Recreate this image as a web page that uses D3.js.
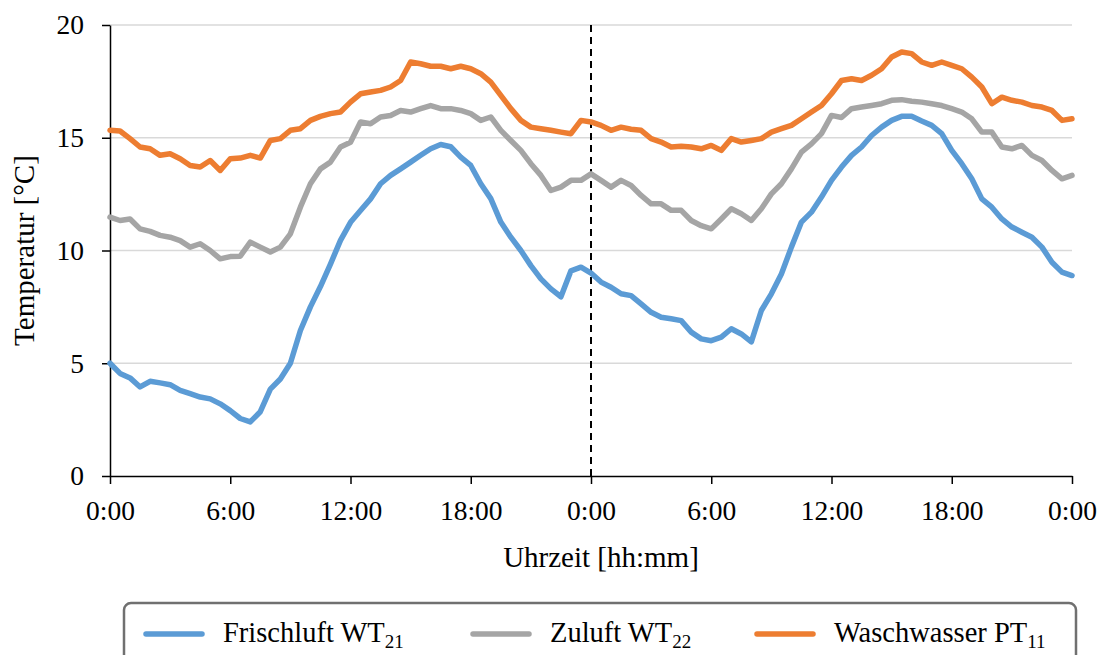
<!DOCTYPE html>
<html><head><meta charset="utf-8">
<script src="https://cdn.jsdelivr.net/npm/d3@7"></script>
<style>
html,body{margin:0;padding:0;background:#fff;}
svg{display:block;}
</style></head>
<body><svg id="chart" width="1100" height="655"></svg>
<script>
// Time in hours (two days, half-hour steps)
const hours = d3.range(0, 48.001, 0.5);
const xTickValues = [0, 6, 12, 18, 24, 30, 36, 42, 48];
const xTickLabels = ["0:00","6:00","12:00","18:00","0:00","6:00","12:00","18:00","0:00"];
const yTickValues = [0, 5, 10, 15, 20];

const frischluft = [5.0,4.55,4.35,3.95,4.2,4.13,4.05,3.8,3.65,3.5,3.42,3.2,2.9,2.55,2.4,2.85,3.85,4.3,5.0,6.45,
 7.5,8.4,9.4,10.45,11.25,11.77,12.29,12.96,13.33,13.62,13.92,14.22,14.51,14.7,14.6,14.14,13.77,12.96,12.3,11.26,
 10.59,10.0,9.33,8.74,8.3,7.95,9.1,9.26,9.0,8.6,8.37,8.08,8.0,7.63,7.26,7.04,6.97,6.89,6.38,6.08,
 6.0,6.16,6.53,6.3,5.95,7.34,8.08,8.96,10.15,11.26,11.7,12.37,13.11,13.7,14.22,14.59,15.1,15.47,15.77,15.95,
 15.95,15.74,15.55,15.18,14.44,13.85,13.18,12.29,11.92,11.4,11.04,10.81,10.59,10.15,9.48,9.04,8.89];
const zuluft = [11.48,11.33,11.4,10.96,10.85,10.67,10.59,10.44,10.15,10.3,10.0,9.63,9.73,9.75,10.37,10.15,9.93,10.15,10.74,11.92,
 12.96,13.62,13.92,14.59,14.8,15.7,15.62,15.92,15.99,16.21,16.14,16.29,16.43,16.29,16.29,16.21,16.07,15.77,15.92,15.33,
 14.88,14.44,13.85,13.33,12.66,12.81,13.11,13.11,13.4,13.11,12.81,13.11,12.88,12.44,12.07,12.07,11.78,11.78,11.33,11.1,
 10.96,11.4,11.85,11.63,11.33,11.85,12.51,12.96,13.62,14.36,14.73,15.18,15.99,15.9,16.29,16.36,16.43,16.51,16.66,16.69,
 16.62,16.58,16.51,16.43,16.29,16.14,15.84,15.25,15.25,14.59,14.51,14.66,14.22,13.99,13.55,13.18,13.33];
const waschwasser = [15.33,15.3,14.96,14.59,14.51,14.22,14.29,14.07,13.77,13.7,13.99,13.55,14.07,14.1,14.22,14.1,14.88,14.96,15.33,15.4,
 15.77,15.95,16.07,16.14,16.58,16.95,17.03,17.1,17.25,17.54,18.36,18.28,18.17,18.17,18.06,18.17,18.06,17.84,17.47,16.88,
 16.29,15.77,15.47,15.4,15.33,15.25,15.18,15.77,15.7,15.55,15.33,15.47,15.38,15.33,14.96,14.81,14.59,14.62,14.59,14.51,
 14.66,14.44,14.96,14.81,14.88,14.96,15.25,15.4,15.55,15.84,16.14,16.43,16.95,17.54,17.62,17.54,17.77,18.06,18.58,18.8,
 18.73,18.36,18.21,18.36,18.21,18.06,17.69,17.25,16.51,16.8,16.66,16.58,16.43,16.36,16.21,15.77,15.84];

const seriesNames = ["Frischluft WT", "Zuluft WT", "Waschwasser PT"];
const seriesSubs = ["21", "22", "11"];
const seriesColors = ["#5B9BD5", "#A5A5A5", "#ED7D31"];
const seriesData = [frischluft, zuluft, waschwasser];

const FONT = "Liberation Serif";
const FS = 27.5;   // tick labels
const FT = 29;     // axis titles
const svg = d3.select("#chart").attr("font-family", FONT);
const x = d3.scaleLinear().domain([0, 48]).range([110, 1072]);
const y = d3.scaleLinear().domain([0, 20]).range([476, 25]);

// gridlines
svg.append("g").selectAll("line").data(yTickValues.filter(v => v > 0)).join("line")
  .attr("x1", x(0)).attr("x2", x(48)).attr("y1", d => y(d)).attr("y2", d => y(d))
  .attr("stroke", "#d9d9d9").attr("stroke-width", 1.5);

// y axis
const yAxis = svg.append("g").attr("transform", `translate(${x(0)},0)`)
  .call(d3.axisLeft(y).tickValues(yTickValues).tickSize(8).tickSizeOuter(0).tickPadding(18));
yAxis.attr("font-family", FONT).attr("font-size", FS);
yAxis.select(".domain").attr("stroke", "#000").attr("stroke-width", 1.5);
yAxis.selectAll(".tick line").attr("stroke", "#000").attr("stroke-width", 1.5);
yAxis.selectAll("text").attr("fill", "#000");

// x axis
const xAxis = svg.append("g").attr("transform", `translate(0,${y(0)})`)
  .call(d3.axisBottom(x).tickValues(xTickValues).tickFormat((d, i) => xTickLabels[i]).tickSize(8).tickSizeOuter(0).tickPadding(16));
xAxis.attr("font-family", FONT).attr("font-size", FS);
xAxis.select(".domain").attr("stroke", "#000").attr("stroke-width", 1.5);
xAxis.selectAll(".tick line").attr("stroke", "#000").attr("stroke-width", 1.5);
xAxis.selectAll("text").attr("fill", "#000");

// dashed midnight line
svg.append("line").attr("x1", x(24)).attr("x2", x(24)).attr("y1", y(20)).attr("y2", y(0))
  .attr("stroke", "#000").attr("stroke-width", 2).attr("stroke-dasharray", "7,5");

// lines
const line = d3.line().x((d, i) => x(hours[i])).y(d => y(d)).curve(d3.curveLinear);
seriesData.forEach((s, k) => {
  svg.append("path").datum(s).attr("d", line).attr("fill", "none")
    .attr("stroke", seriesColors[k]).attr("stroke-width", 5.5)
    .attr("stroke-linejoin", "round").attr("stroke-linecap", "round");
});

// axis titles
svg.append("text").attr("transform", `translate(34,${y(10)}) rotate(-90)`)
  .attr("text-anchor", "middle").attr("font-family", FONT).attr("font-size", FT).text("Temperatur [°C]");
svg.append("text").attr("x", 601).attr("y", 567)
  .attr("text-anchor", "middle").attr("font-family", FONT).attr("font-size", FT).text("Uhrzeit [hh:mm]");

// legend
svg.append("rect").attr("x", 124).attr("y", 603).attr("width", 952).attr("height", 70)
  .attr("rx", 7).attr("fill", "#fff").attr("stroke", "#707070").attr("stroke-width", 2.5);
const legX = [146, 473, 757];
seriesNames.forEach((n, k) => {
  svg.append("line").attr("x1", legX[k]).attr("x2", legX[k] + 56).attr("y1", 634).attr("y2", 634)
    .attr("stroke", seriesColors[k]).attr("stroke-width", 5.5).attr("stroke-linecap", "round");
  const t = svg.append("text").attr("x", legX[k] + 77).attr("y", 642)
    .attr("font-family", FONT).attr("font-size", 28.5);
  t.append("tspan").text(n);
  t.append("tspan").attr("font-size", 19).attr("dy", 6).text(seriesSubs[k]);
});
</script></body></html>
